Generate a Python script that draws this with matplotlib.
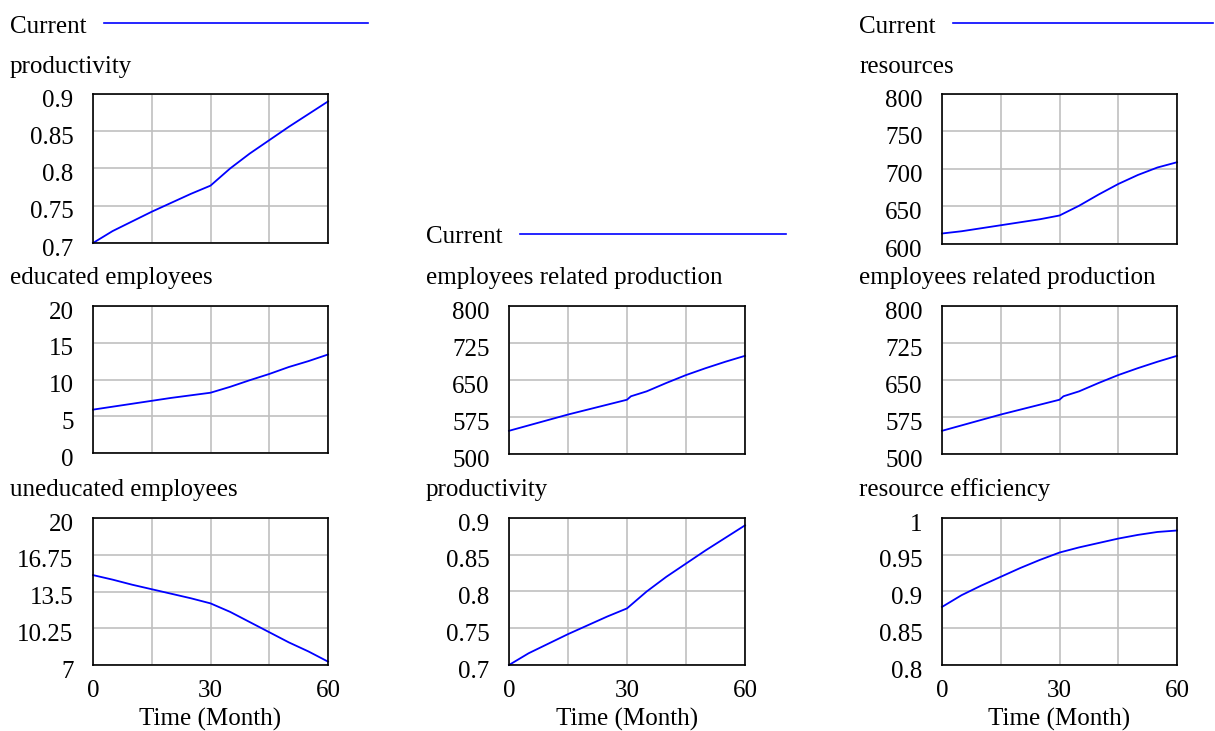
import matplotlib
matplotlib.use("Agg")
import matplotlib.pyplot as plt
from matplotlib.transforms import ScaledTranslation

plt.rcParams['font.family'] = ['Liberation Serif', 'DejaVu Serif']

# simulation output, read every 5 months (one extra point after the kink at month 30)
months = [0, 5, 10, 15, 20, 25, 30, 35, 40, 45, 50, 55, 60]
productivity = [0.700, 0.716, 0.729, 0.742, 0.754, 0.766, 0.777, 0.800, 0.820, 0.838, 0.856, 0.873, 0.890]
educated = [5.9, 6.3, 6.7, 7.1, 7.5, 7.85, 8.2, 9.0, 9.9, 10.75, 11.7, 12.5, 13.4]
uneducated = [14.95, 14.55, 14.1, 13.7, 13.3, 12.9, 12.45, 11.7, 10.8, 9.9, 9.0, 8.2, 7.3]
resources = [614, 617, 621, 625, 629, 633, 638, 651, 666, 680, 692, 702, 709]
res_eff = [0.879, 0.895, 0.908, 0.920, 0.932, 0.943, 0.953, 0.960, 0.966, 0.972, 0.977, 0.981, 0.983]
emp_months = [0, 5, 10, 15, 20, 25, 30, 31, 35, 40, 45, 50, 55, 60]
emp_prod = [547, 558, 569, 580, 590, 600, 610, 617, 627, 644, 660, 674, 687, 699]

W, H = 1215, 731
BLUE = '#0000ff'
FS = 18

fig = plt.figure(figsize=(W / 100, H / 100), dpi=100)
down = ScaledTranslation(0, -3 / 72, fig.dpi_scale_trans)


def fx(px):
    return px / W


def fy(py):
    return 1 - py / H


def panel(left, top, right, bottom, t, y, ylim, yticks, yticklabels, title, title_x, title_base, xlab=False):
    ax = fig.add_axes([fx(left), fy(bottom), fx(right - left), (bottom - top) / H])
    ax.plot(t, y, color=BLUE, lw=1.3, clip_on=False)
    ax.set_xlim(0, 60)
    ax.set_ylim(*ylim)
    ax.set_xticks([0, 15, 30, 45, 60])
    ax.set_yticks(yticks)
    ax.set_yticklabels(yticklabels)
    ax.grid(True, color='#c0c0c0', lw=1.2)
    ax.set_axisbelow(True)
    for s in ax.spines.values():
        s.set_linewidth(1.2)
        s.set_color('black')
    ax.tick_params(length=0, labelsize=FS, pad=14)
    ax.tick_params(axis='x', pad=11)
    for lab in ax.get_yticklabels():
        lab.set_transform(lab.get_transform() + down)
    if xlab:
        ax.set_xticklabels(['0', '', '30', '', '60'])
        ax.set_xlabel('Time (Month)', fontsize=FS, labelpad=4)
    else:
        ax.set_xticklabels([])
    fig.text(fx(title_x), fy(title_base), title, fontsize=FS, va='baseline', ha='left')
    return ax


def legend(x, base, x0, x1, ly):
    fig.text(fx(x), fy(base), 'Current', fontsize=FS, va='baseline', ha='left')
    fig.add_artist(plt.Line2D([fx(x0), fx(x1)], [fy(ly), fy(ly)], color=BLUE, lw=1.2))


# column 1
legend(10, 33, 104, 368, 22.5)
panel(93, 94, 328, 243, months, productivity, (0.7, 0.9), [0.7, 0.75, 0.8, 0.85, 0.9],
      ['0.7', '0.75', '0.8', '0.85', '0.9'], 'productivity', 10, 73)
panel(93, 306, 328, 453, months, educated, (0, 20), [0, 5, 10, 15, 20],
      ['0', '5', '10', '15', '20'], 'educated employees', 10, 284)
panel(93, 518, 328, 665, months, uneducated, (7, 20), [7, 10.25, 13.5, 16.75, 20],
      ['7', '10.25', '13.5', '16.75', '20'], 'uneducated employees', 10, 496, xlab=True)

# column 2
legend(426, 243, 520, 786, 234)
panel(509, 306, 745, 454, emp_months, emp_prod, (500, 800), [500, 575, 650, 725, 800],
      ['500', '575', '650', '725', '800'], 'employees related production', 426, 284)
panel(509, 518, 745, 665, months, productivity, (0.7, 0.9), [0.7, 0.75, 0.8, 0.85, 0.9],
      ['0.7', '0.75', '0.8', '0.85', '0.9'], 'productivity', 426, 496, xlab=True)

# column 3
legend(859, 33, 953, 1213, 22.5)
panel(942, 94, 1177, 244, months, resources, (600, 800), [600, 650, 700, 750, 800],
      ['600', '650', '700', '750', '800'], 'resources', 859, 73)
panel(942, 306, 1177, 454, emp_months, emp_prod, (500, 800), [500, 575, 650, 725, 800],
      ['500', '575', '650', '725', '800'], 'employees related production', 859, 284)
panel(942, 518, 1177, 665, months, res_eff, (0.8, 1.0), [0.8, 0.85, 0.9, 0.95, 1.0],
      ['0.8', '0.85', '0.9', '0.95', '1'], 'resource efficiency', 859, 496, xlab=True)

fig.savefig('out.png', dpi=100)
